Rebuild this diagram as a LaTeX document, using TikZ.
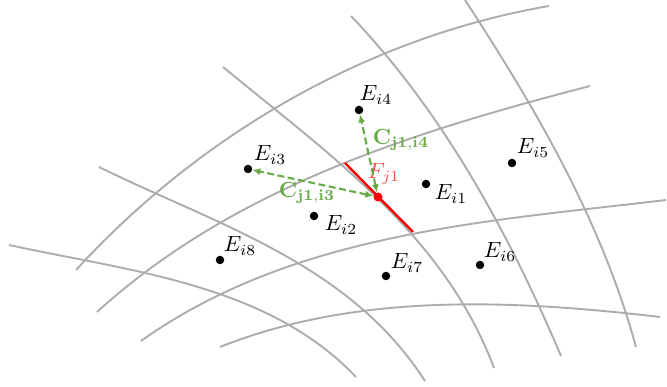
\RequirePackage{fix-cm}
\documentclass[tikz,border=0pt]{standalone}
\usetikzlibrary{arrows.meta,calc}
\definecolor{gridgray}{RGB}{172,172,172}
\definecolor{cgreen}{RGB}{104,170,70}
\definecolor{flabel}{RGB}{255,72,72}
% cubic Bezier from #1 to #4 passing through #2 (t=1/3) and #3 (t=2/3)
\newcommand\thrucurve[4]{%
  \draw[gridline] #1 .. controls ($3*#2 - 1.5*#3 - 0.83333*#1 + 0.33333*#4$)
    and ($3*#3 - 1.5*#2 + 0.33333*#1 - 0.83333*#4$) .. #4;}
\begin{document}
\begin{tikzpicture}[x=1pt,y=-1pt,
  gridline/.style={gridgray, line width=1.9pt},
  dot/.style={circle, fill=black, inner sep=0pt, minimum size=8.5pt},
  fdot/.style={circle, fill=red, inner sep=0pt, minimum size=9pt},
  lab/.style={font=\normalsize, scale=2.2, inner sep=0pt},
  conn/.style={cgreen, line width=2.1pt, dash pattern=on 7pt off 3.5pt,
    {Latex[length=8pt,width=7pt]}-{Latex[length=8pt,width=7pt]}},
  face/.style={red, line width=2.4pt}
  ]
\useasboundingbox (0,0) rectangle (667,387);
% grid curves (lower-left to upper-right)
\thrucurve{(76,270)}{(214,148)}{(374,58)}{(549,6)}
\thrucurve{(97,312)}{(247,208)}{(415,137)}{(590,86)}
\thrucurve{(141,341)}{(305,261)}{(484,222)}{(666,200)}
\thrucurve{(220,347)}{(363,311)}{(512,305)}{(660,317)}
% grid curves (upper-left to lower-right)
\thrucurve{(9,245)}{(132,270)}{(253,307)}{(356,377)}
\thrucurve{(99,167)}{(219,222)}{(333,286)}{(425,381)}
\thrucurve{(223,67)}{(329,154)}{(425,250)}{(494,368)}
\thrucurve{(351,16)}{(435,120)}{(504,235)}{(561,356)}
\thrucurve{(465,0)}{(533,110)}{(592,225)}{(636,347)}
% face
\coordinate (fa) at (345,163);
\coordinate (fb) at (413,232);
\draw[face] (fa) -- (fb);
% cell centres
\node[dot] (e1) at (426,184) {};
\node[dot] (e2) at (314,216) {};
\node[dot] (e3) at (248,169) {};
\node[dot] (e4) at (359,110) {};
\node[dot] (e5) at (512,163) {};
\node[dot] (e6) at (480,265) {};
\node[dot] (e7) at (386,276) {};
\node[dot] (e8) at (220,260) {};
\node[fdot] (f) at (378,197) {};
% labels
\node[lab] (l1) at (451,194) {$E_{i1}$};
\node[lab] (l2) at (341,225) {$E_{i2}$};
\node[lab] (l3) at (270,155) {$E_{i3}$};
\node[lab] (l4) at (376,95) {$E_{i4}$};
\node[lab] (l5) at (533,148) {$E_{i5}$};
\node[lab] (l6) at (500,252) {$E_{i6}$};
\node[lab] (l7) at (407,263) {$E_{i7}$};
\node[lab] (l8) at (240,246) {$E_{i8}$};
\node[lab, text=flabel] (lf) at (384,174) {$F_{j1}$};
% connectors
\draw[conn] (f) -- (e4);
\draw[conn] (f) -- (e3);
\node[lab, text=cgreen] (c4) at (401,140) {$\mathbf{C}_{\mathbf{j1,i4}}$};
\node[lab, text=cgreen] (c3) at (307,193) {$\mathbf{C}_{\mathbf{j1,i3}}$};
\end{tikzpicture}
\end{document}
